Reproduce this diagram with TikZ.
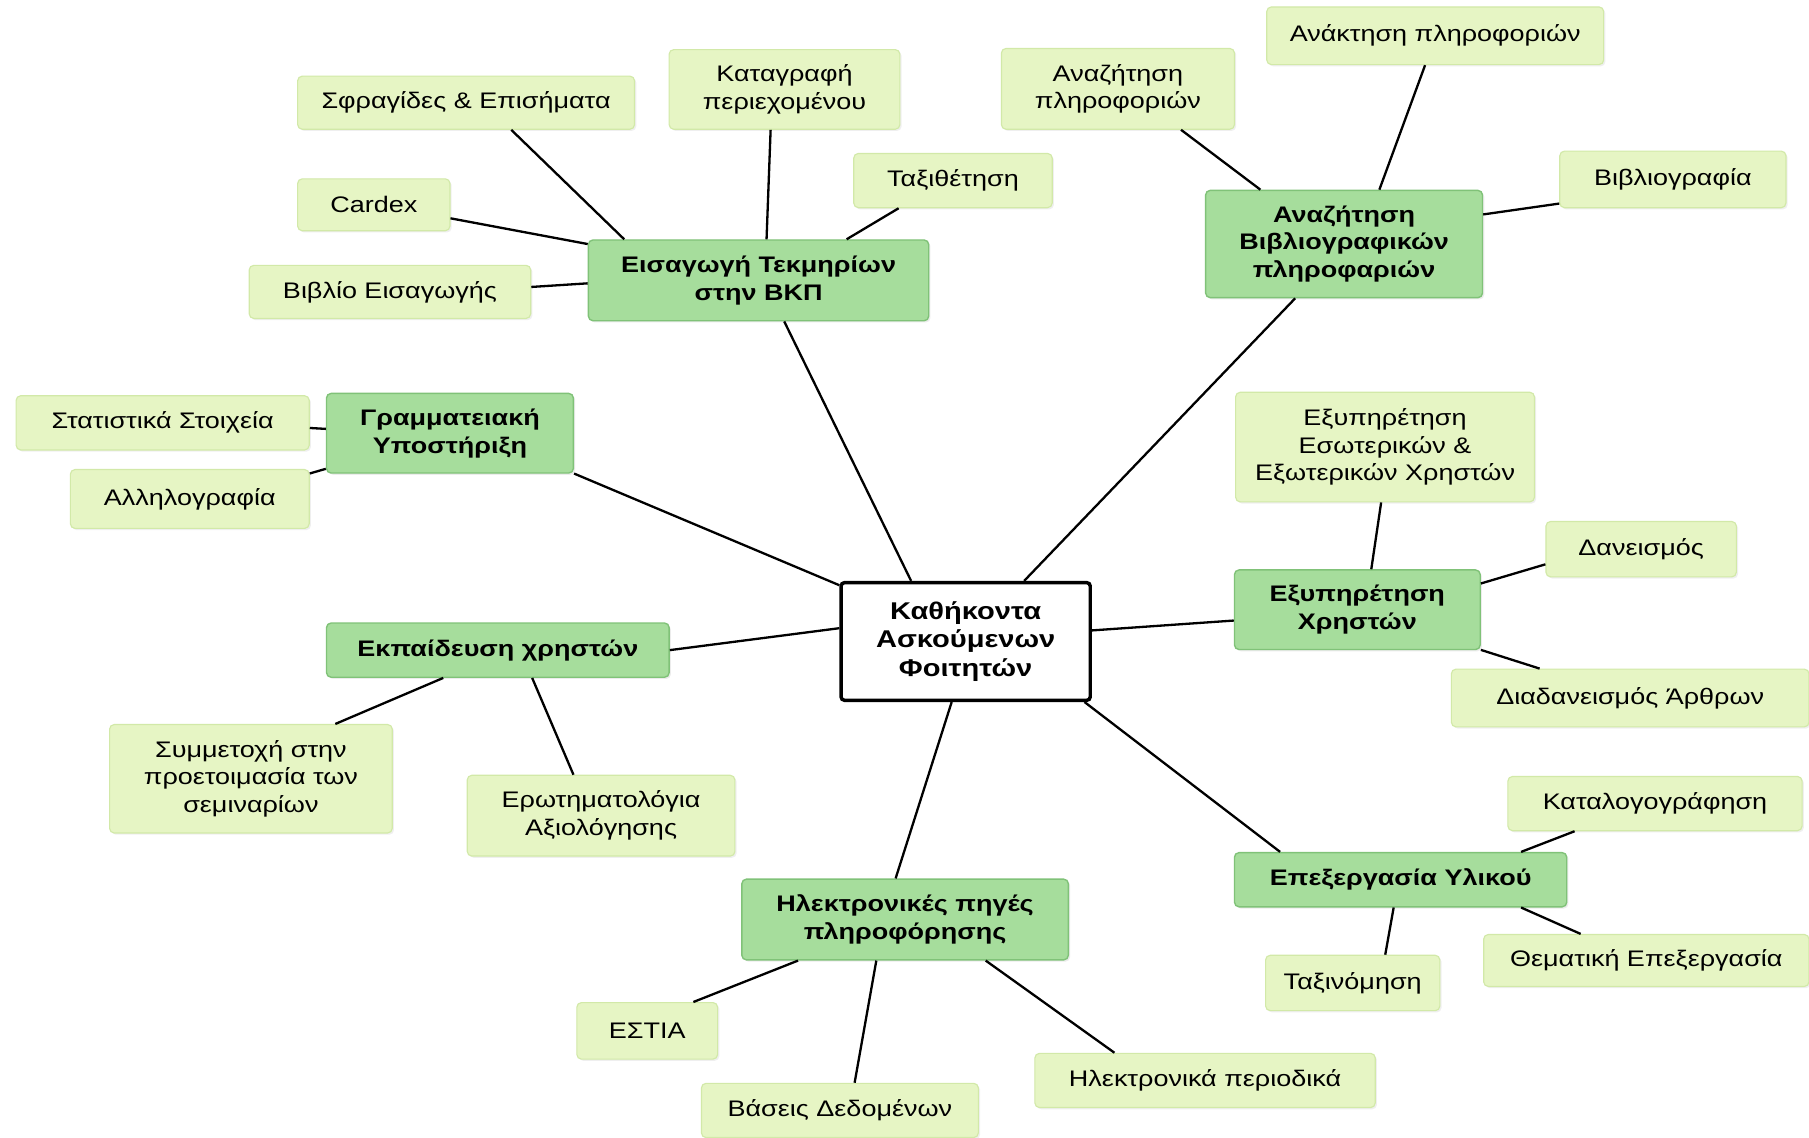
\documentclass[tikz,border=0pt]{standalone}
\usepackage{fontspec}
\setmainfont{Liberation Sans}[FakeStretch=1.2]
\usetikzlibrary{shadows}
\definecolor{subfill}{HTML}{E6F5C4}
\definecolor{subdraw}{HTML}{D2E9A8}
\definecolor{mainfill}{HTML}{A6DD9C}
\definecolor{maindraw}{HTML}{80C278}
\begin{document}
\begin{tikzpicture}[x=1pt,y=-1pt,
  box/.style={rectangle, rounded corners=4pt, inner sep=0pt, align=center,
     font=\fontsize{19.5}{24}\selectfont},
  sub/.style={box, fill=subfill, draw=subdraw, line width=1pt,
     drop shadow={opacity=0.12, shadow xshift=1.5pt, shadow yshift=-1.5pt}},
  mainn/.style={box, fill=mainfill, draw=maindraw, line width=1.2pt,
     font=\fontsize{19.5}{24}\selectfont\bfseries,
     drop shadow={opacity=0.15, shadow xshift=1.5pt, shadow yshift=-1.5pt}},
  centre/.style={box, fill=white, draw=black, line width=3pt, rounded corners=3pt,
     font=\fontsize{21}{25}\selectfont\bfseries},
  link/.style={draw=black, line width=2pt}]
\useasboundingbox (0,0) rectangle (1568,986);
\fill[white] (0,0) rectangle (1568,986);

% central
\node[centre, minimum width=216pt, minimum height=102pt] (C) at (837,556) {Καθήκοντα\\Ασκούμενων\\Φοιτητών};

% main nodes
\node[mainn, minimum width=295pt, minimum height=70pt] (E1) at (657.5,243) {Εισαγωγή Τεκμηρίων\\στην ΒΚΠ};
\node[mainn, minimum width=240pt, minimum height=93pt] (E2) at (1165,211.5) {Αναζήτηση\\Βιβλιογραφικών\\πληροφαριών};
\node[mainn, minimum width=214pt, minimum height=69pt] (E3) at (390,375.5) {Γραμματειακή\\Υποστήριξη};
\node[mainn, minimum width=297pt, minimum height=47pt] (E4) at (431.5,563.5) {Εκπαίδευση χρηστών};
\node[mainn, minimum width=213pt, minimum height=69pt] (E5) at (1176.5,528.5) {Εξυπηρέτηση\\Χρηστών};
\node[mainn, minimum width=288pt, minimum height=47pt] (E6) at (1214,762.5) {Επεξεργασία Υλικού};
\node[mainn, minimum width=283pt, minimum height=70pt] (E7) at (784.5,797) {Ηλεκτρονικές πηγές\\πληροφόρησης};

% sub nodes of E1
\node[sub, minimum width=292pt, minimum height=46pt] (S1) at (404,89) {Σφραγίδες \& Επισήματα};
\node[sub, minimum width=200pt, minimum height=69pt] (S2) at (680,77.5) {Καταγραφή\\περιεχομένου};
\node[sub, minimum width=172pt, minimum height=47pt] (S3) at (826,156.5) {Ταξιθέτηση};
\node[sub, minimum width=132pt, minimum height=45pt] (S4) at (324,177.5) {Cardex};
\node[sub, minimum width=244pt, minimum height=46pt] (S5) at (338,253) {Βιβλίο Εισαγωγής};

% sub nodes of E2
\node[sub, minimum width=202pt, minimum height=70pt] (T1) at (969,77) {Αναζήτηση\\πληροφοριών};
\node[sub, minimum width=292pt, minimum height=50pt] (T2) at (1244,31) {Ανάκτηση πληροφοριών};
\node[sub, minimum width=196pt, minimum height=49pt] (T3) at (1450,155.5) {Βιβλιογραφία};

% sub nodes of E3
\node[sub, minimum width=254pt, minimum height=47pt] (U1) at (141,366.5) {Στατιστικά Στοιχεία};
\node[sub, minimum width=207pt, minimum height=51pt] (U2) at (164.5,432.5) {Αλληλογραφία};

% sub nodes of E4
\node[sub, minimum width=245pt, minimum height=94pt] (V1) at (217.5,675) {Συμμετοχή στην\\προετοιμασία των\\σεμιναρίων};
\node[sub, minimum width=232pt, minimum height=70pt] (V2) at (521,707) {Ερωτηματολόγια\\Αξιολόγησης};

% sub nodes of E5
\node[sub, minimum width=259pt, minimum height=95pt] (W1) at (1200.5,387.5) {Εξυπηρέτηση\\Εσωτερικών \&\\Εξωτερικών Χρηστών};
\node[sub, minimum width=165pt, minimum height=48pt] (W2) at (1422.5,476) {Δανεισμός};
\node[sub, minimum width=310pt, minimum height=50pt] (W3) at (1413,605) {Διαδανεισμός Άρθρων};

% sub nodes of E6
\node[sub, minimum width=255pt, minimum height=47pt] (X1) at (1434.5,696.5) {Καταλογογράφηση};
\node[sub, minimum width=282pt, minimum height=45pt] (X2) at (1427,832.5) {Θεματική Επεξεργασία};
\node[sub, minimum width=151pt, minimum height=48pt] (X3) at (1172.5,852) {Ταξινόμηση};

% sub nodes of E7
\node[sub, minimum width=122pt, minimum height=49pt] (Y1) at (561,893.5) {ΕΣΤΙΑ};
\node[sub, minimum width=240pt, minimum height=47pt] (Y2) at (728,962.5) {Βάσεις Δεδομένων};
\node[sub, minimum width=295pt, minimum height=47pt] (Y3) at (1044.5,936.5) {Ηλεκτρονικά περιοδικά};

% connectors: centre to main
\draw[link] (C.132.7) -- (E1.-58.7);
\draw[link] (C.46.7) -- (E2.-132.8);
\draw[link] (C.156.9) -- (E3.-18.8);
\draw[link] (C.174.2) -- (E4.east);
\draw[link] (C.5.8) -- (E5.-175.4);
\draw[link] (C.-27.5) -- (E6.167.8);
\draw[link] (C.-103.2) -- (E7.103.7);

% E1
\draw[link] (E1.163.8) -- (S1.-31.4);
\draw[link] (E1.79.5) -- (S2.-109.2);
\draw[link] (E1.25.8) -- (S3.-153.9);
\draw[link] (E1.168.5) -- (S4.-10.7);
\draw[link] (E1.181.2) -- (S5.2.3);

% E2
\draw[link] (E2.147.5) -- (T1.-33.4);
\draw[link] (E2.57.2) -- (T2.-109.8);
\draw[link] (E2.12.5) -- (T3.-168.7);

% E3
\draw[link] (E3.178) -- (U1.-2.5);
\draw[link] (E3.-164.6) -- (U2.12.8);

% E4
\draw[link] (E4.-153.2) -- (V1.33);
\draw[link] (E4.-39.5) -- (V2.124.4);

% E5
\draw[link] (E5.71.6) -- (W1.-94.2);
\draw[link] (E5.12.4) -- (W2.189.6);
\draw[link] (E5.-18.1) -- (W3.162.2);

% E6
\draw[link] (E6.13.8) -- (X1.-161.3);
\draw[link] (E6.-13.8) -- (X2.158.5);
\draw[link] (E6.-104.3) -- (X3.41.1);

% E7
\draw[link] (E7.-159.7) -- (Y1.32.1);
\draw[link] (E7.-125) -- (Y2.62.9);
\draw[link] (E7.-27.4) -- (Y3.163.5);
\end{tikzpicture}
\end{document}
